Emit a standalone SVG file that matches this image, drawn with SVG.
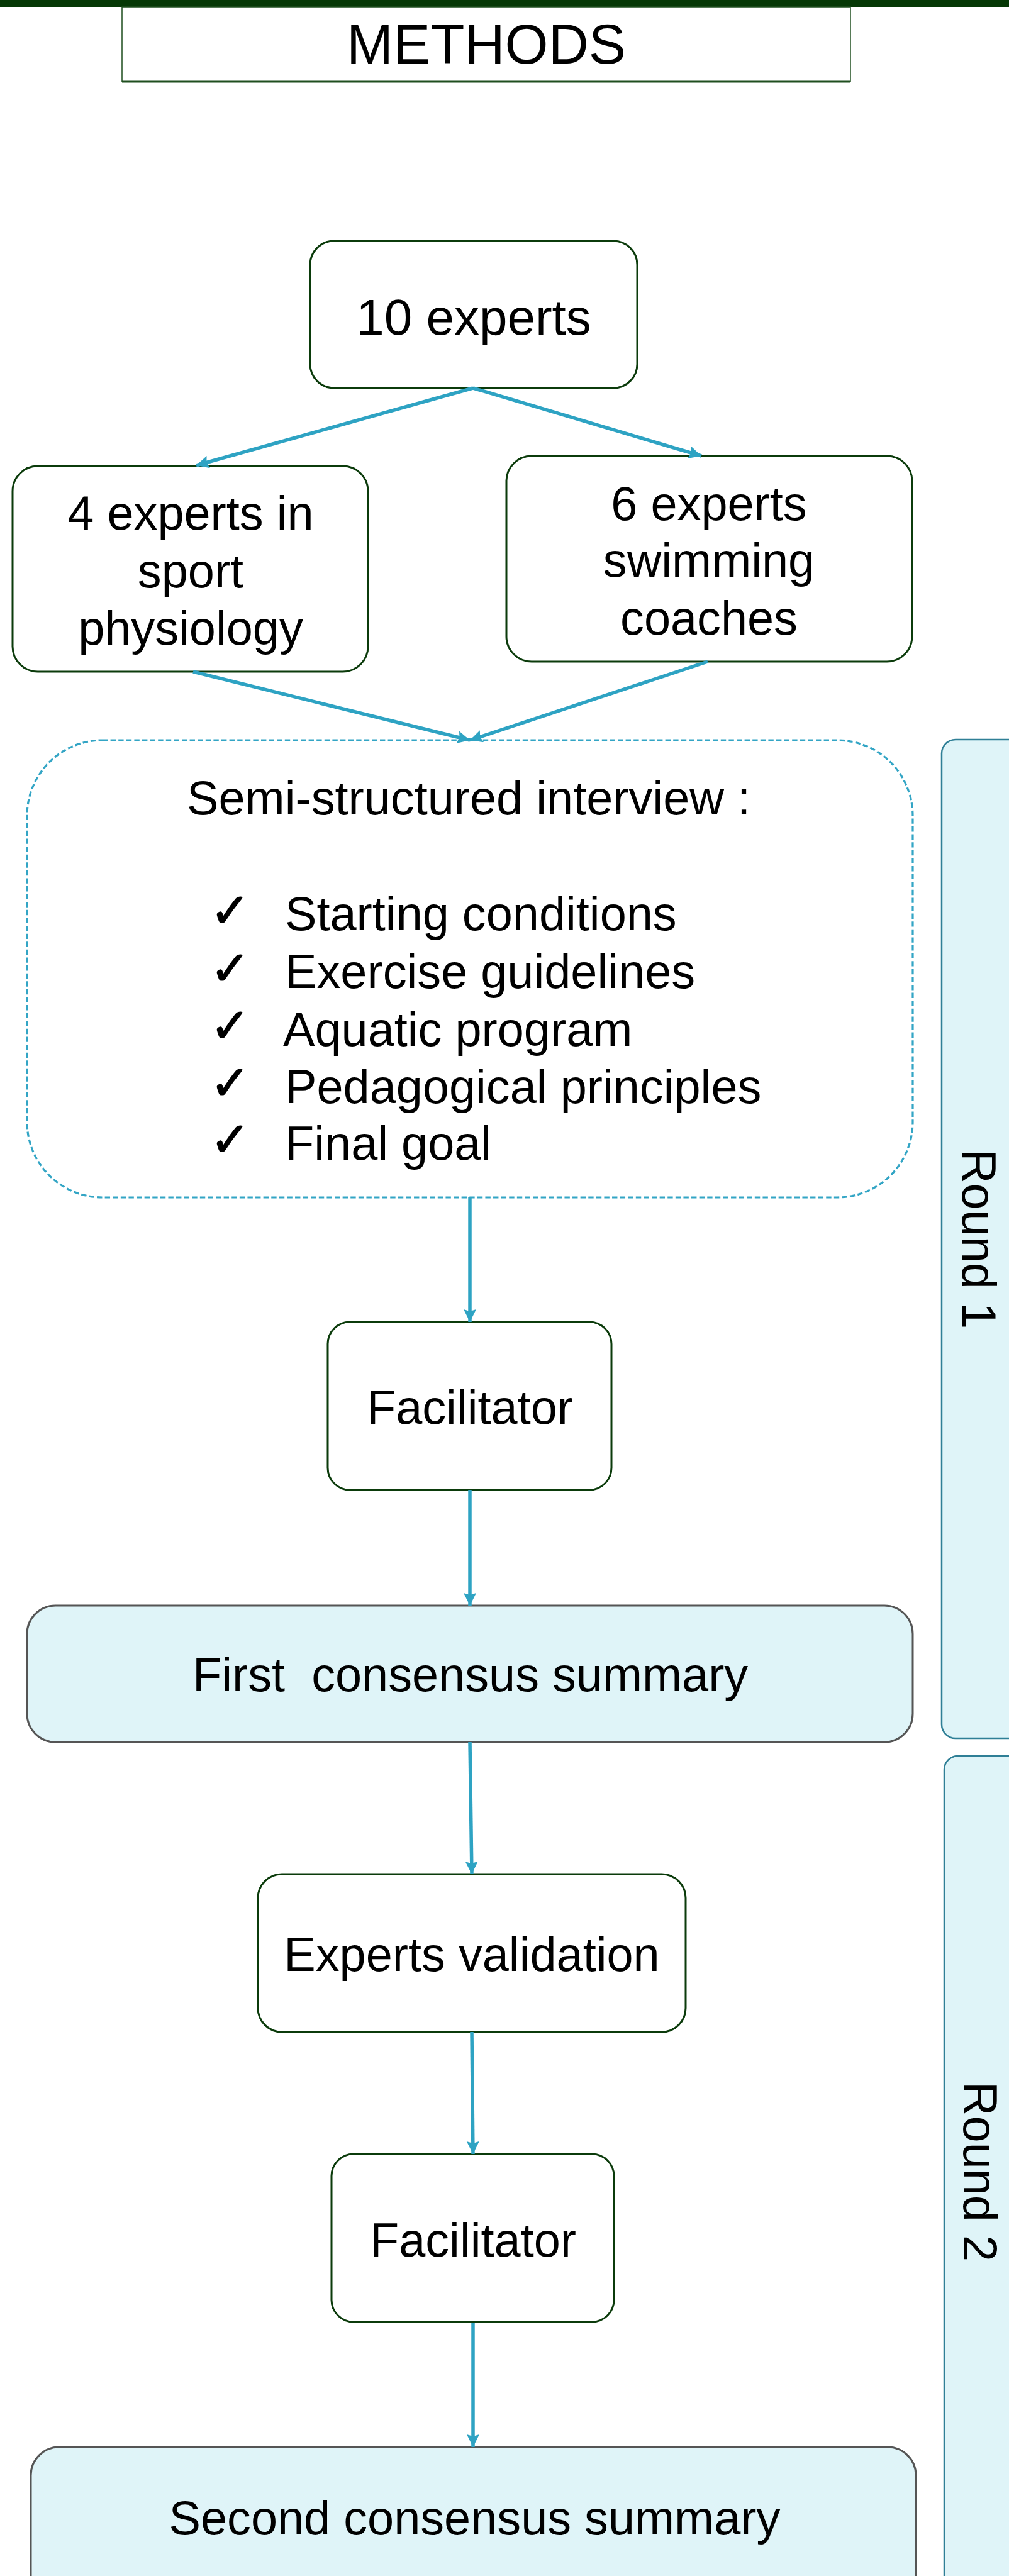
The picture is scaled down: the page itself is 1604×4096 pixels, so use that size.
<svg xmlns="http://www.w3.org/2000/svg" width="1604" height="4096" viewBox="0 0 1604 4096">
<defs>
<marker id="ah" markerUnits="userSpaceOnUse" markerWidth="22" markerHeight="22" refX="20" refY="10" orient="auto">
<path d="M0,0 L20,10 L0,20 L3,10 Z" fill="#2ea3c3"/>
</marker>
<style>
.t{font-family:"Liberation Sans",Arial,sans-serif;fill:#000;text-anchor:middle}
.node{fill:#fff;stroke:#0b3b0b;stroke-width:3}
.sum{fill:#dff4f8;stroke:#555;stroke-width:3}
.round{fill:#dff4f8;stroke:#2f7f96;stroke-width:2.5}
.dash{fill:#fff;stroke:#33a5c5;stroke-width:3.2;stroke-dasharray:8.4 4.2}
.c{fill:none;stroke:#2ea3c3;stroke-width:5.5;marker-end:url(#ah)}
.ck{font-family:"DejaVu Sans",sans-serif;font-size:76px;fill:#000;stroke:#000;stroke-width:1.5}
</style>
</defs>
<rect x="0" y="0" width="1604" height="11" fill="#053805"/>
<g id="title">
<rect x="194" y="11" width="1158" height="119" fill="#fff" stroke="#1f4f1f" stroke-width="1.5"/>
<line x1="194" y1="130" x2="1352" y2="130" stroke="#1f4f1f" stroke-width="3"/>
<text class="t" x="773" y="101" font-size="88.8">METHODS</text>
</g>
<g id="round1">
<rect class="round" x="1497" y="1176" width="150" height="1588" rx="22"/>
<text class="t" font-size="75.7" transform="translate(1530,1970) rotate(90)">Round 1</text>
</g>
<g id="round2">
<rect class="round" x="1501" y="2792" width="150" height="1400" rx="22"/>
<text class="t" font-size="75.7" transform="translate(1531.5,3453) rotate(90)">Round 2</text>
</g>
<g id="experts10">
<rect class="node" x="493" y="383" width="520" height="234" rx="38"/>
<text class="t" x="753" y="531.5" font-size="80">10 experts</text>
</g>
<g id="experts4">
<rect class="node" x="20" y="741" width="565" height="327" rx="40"/>
<text class="t" font-size="75.7"><tspan x="303" y="842">4 experts in</tspan><tspan x="303" y="933.5">sport</tspan><tspan x="303" y="1025">physiology</tspan></text>
</g>
<g id="experts6">
<rect class="node" x="805" y="725" width="645" height="327" rx="40"/>
<text class="t" font-size="75.7"><tspan x="1127" y="826.7">6 experts</tspan><tspan x="1127" y="917.1">swimming</tspan><tspan x="1127" y="1009.2">coaches</tspan></text>
</g>
<g id="interview">
<rect class="dash" x="43" y="1177" width="1408" height="727" rx="120"/>
<text class="t" x="745" y="1295" font-size="75.7">Semi-structured interview :</text>
<g class="ck">
<text x="334" y="1474">✓</text>
<text x="334" y="1566">✓</text>
<text x="334" y="1657">✓</text>
<text x="334" y="1748">✓</text>
<text x="334" y="1838">✓</text>
</g>
<g font-family="'Liberation Sans',Arial,sans-serif" font-size="75.7" fill="#000">
<text x="453" y="1479.3">Starting conditions</text>
<text x="453" y="1571">Exercise guidelines</text>
<text x="450" y="1662.7">Aquatic program</text>
<text x="453" y="1753.5">Pedagogical principles</text>
<text x="453" y="1843.5">Final goal</text>
</g>
</g>
<g id="facilitator1">
<rect class="node" x="521" y="2102" width="451" height="267" rx="35"/>
<text class="t" x="747" y="2264" font-size="75.7">Facilitator</text>
</g>
<g id="first">
<rect class="sum" x="43" y="2553" width="1408" height="217" rx="45"/>
<text class="t" x="747.6" y="2688.7" font-size="75.7">First&#160; consensus summary</text>
</g>
<g id="validation">
<rect class="node" x="410" y="2980" width="680" height="251" rx="38"/>
<text class="t" x="750" y="3133.6" font-size="75.7">Experts validation</text>
</g>
<g id="facilitator2">
<rect class="node" x="527" y="3425" width="449" height="267" rx="35"/>
<text class="t" x="752" y="3587.7" font-size="75.7">Facilitator</text>
</g>
<g id="second">
<rect class="sum" x="49" y="3891" width="1407" height="260" rx="45"/>
<text class="t" x="754.4" y="4030" font-size="75.7">Second consensus summary</text>
</g>
<g id="connectors">
<line class="c" x1="752" y1="617" x2="312" y2="740"/>
<line class="c" x1="752" y1="617" x2="1115" y2="725"/>
<line class="c" x1="307" y1="1068" x2="747" y2="1177"/>
<line class="c" x1="1125" y1="1052" x2="747" y2="1177"/>
<line class="c" x1="747" y1="1904" x2="747" y2="2102"/>
<line class="c" x1="747" y1="2369" x2="747" y2="2553"/>
<line class="c" x1="747" y1="2770" x2="750" y2="2980"/>
<line class="c" x1="750" y1="3231" x2="752" y2="3425"/>
<line class="c" x1="752" y1="3693" x2="752" y2="3891"/>
</g>
</svg>
